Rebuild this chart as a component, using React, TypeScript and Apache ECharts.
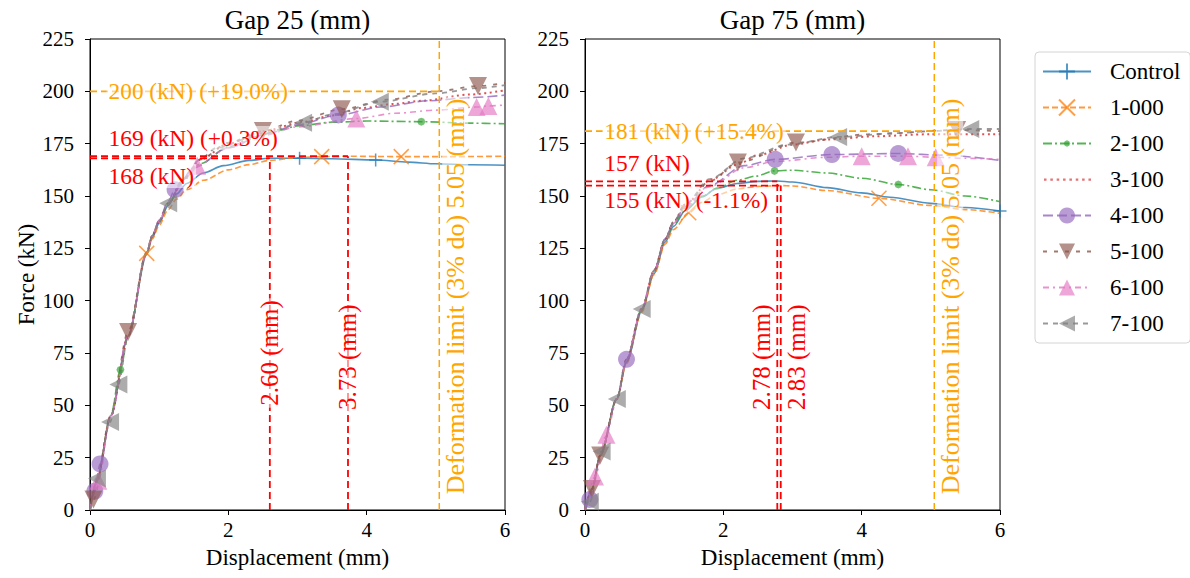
import React, { useEffect, useRef } from "react";
import * as echarts from "echarts";

type Pt = [number, number];

const SERIF = "Liberation Serif, serif";

const seriesNames = ["Control", "1-000", "2-100", "3-100", "4-100", "5-100", "6-100", "7-100"];
const seriesColors = ["#1f77b4", "#ff7f0e", "#2ca02c", "#d62728", "#9467bd", "#8c564b", "#e377c2", "#7f7f7f"];

const xTicks = [0, 2, 4, 6];
const yTicks = [0, 25, 50, 75, 100, 125, 150, 175, 200, 225];
const panelTitles = ["Gap 25 (mm)", "Gap 75 (mm)"];

// ---- Gap 25 (mm) ----
const g25Control: Pt[] = [[0, 0], [0.1, 14], [0.3, 45], [0.55, 83], [0.82, 122], [0.9, 130], [1.0, 137], [1.13, 145.5], [1.25, 151], [1.4, 156], [1.64, 161], [1.93, 164.5], [2.3, 167], [2.6, 168], [3.03, 168], [3.5, 167.8], [4.13, 167.2], [4.6, 166.2], [5.0, 165.4], [5.5, 164.9], [6, 164.7]];
const g25ControlMarks = [3.03, 4.13];
const g25S1: Pt[] = [[0, 0], [0.1, 14], [0.3, 45], [0.55, 83], [0.82, 122.6], [0.9, 129.5], [1.0, 136], [1.13, 143.5], [1.25, 148.5], [1.4, 153], [1.64, 157.5], [2.0, 162.5], [2.3, 165], [2.6, 167], [3.0, 168.3], [3.35, 168.8], [3.73, 169], [4.5, 168.8], [5.2, 168.8], [6, 169]];
const g25S1Marks = [0.82, 3.35, 4.5];
const g25S2: Pt[] = [[0, 0], [0.1, 14], [0.3, 45], [0.44, 67], [0.55, 83], [0.82, 123], [0.9, 131], [1.0, 138], [1.13, 146.5], [1.35, 157.5], [1.6, 165.5], [2.0, 173.5], [2.4, 178.5], [2.75, 181.5], [3.0, 183.5], [3.5, 185.2], [4.0, 185.8], [4.79, 185.5], [5.5, 184.8], [6, 184.5]];
const g25S2Marks = [0.44, 4.79];
const g25S3: Pt[] = [[0, 0], [0.1, 14], [0.3, 45], [0.55, 83], [0.82, 123], [0.9, 131], [1.0, 138], [1.13, 146.5], [1.35, 158], [1.6, 167.5], [2.0, 175], [2.5, 181], [3.1, 185.5], [3.5, 188.5], [3.93, 192], [4.4, 194], [4.8, 195.5], [5.5, 198.5], [6, 200.5]];
const g25S3Marks: number[] = [];
const g25S4: Pt[] = [[0, 0], [0.07, 9], [0.145, 22], [0.3, 45], [0.55, 83], [0.82, 123], [0.9, 131], [1.0, 138.5], [1.13, 147.5], [1.23, 153], [1.5, 163.5], [2.0, 173], [2.5, 179], [3.0, 184], [3.59, 188.7], [4.2, 192.5], [4.89, 195.5], [5.5, 197], [6, 198.2]];
const g25S4Marks = [0.07, 0.145, 1.23, 3.59];
const g25S5: Pt[] = [[0, 0], [0.05, 5], [0.3, 45], [0.55, 85], [0.82, 123], [0.9, 131], [1.0, 138], [1.13, 146.5], [1.35, 158], [1.6, 167.5], [2.0, 175.5], [2.5, 181], [3.0, 186], [3.64, 191.5], [4.3, 196], [5.0, 200], [5.61, 202.5], [6, 204]];
const g25S5Marks = [0.05, 0.55, 2.5, 3.64, 5.61];
const g25S6: Pt[] = [[0, 0], [0.12, 14], [0.3, 45], [0.55, 83], [0.82, 123], [0.9, 131], [1.0, 138], [1.13, 146.5], [1.35, 157.5], [1.55, 164.5], [2.0, 173], [2.5, 179], [3.0, 183], [3.85, 187], [4.41, 189.5], [5.0, 191], [5.59, 192.5], [5.76, 193], [6, 193.5]];
const g25S6Marks = [0.12, 1.55, 3.85, 5.59, 5.76];
const g25S7: Pt[] = [[0, 0], [0.1, 15], [0.29, 42], [0.41, 60], [0.55, 83], [0.82, 123], [0.9, 131], [1.0, 138], [1.13, 146.5], [1.35, 158], [1.59, 167.5], [1.83, 173], [2.5, 180], [3.08, 185], [3.5, 189], [4.19, 195], [5.0, 199], [5.6, 201.5], [6, 203]];
const g25S7Marks = [0.1, 0.29, 0.41, 1.13, 3.08, 4.19];

// ---- Gap 75 (mm) ----
const g75Control: Pt[] = [[0, 0], [0.1, 10], [0.22, 26], [0.46, 53], [0.6, 70.5], [0.82, 95], [1.0, 113], [1.16, 128], [1.28, 135.5], [1.45, 143], [1.69, 149.5], [1.9, 153.5], [2.2, 156], [2.5, 157], [2.78, 157.2], [3.0, 156.7], [3.5, 154], [4.0, 151.5], [4.41, 149.4], [5.0, 146.5], [5.5, 144.5], [6, 142.8]];
const g75ControlMarks = [6];
const g75S1: Pt[] = [[0, 0], [0.1, 10], [0.22, 26], [0.46, 53], [0.6, 70], [0.82, 94.5], [1.0, 112.5], [1.16, 127], [1.28, 134], [1.5, 142], [1.69, 147], [1.9, 150.5], [2.2, 153.3], [2.5, 154.6], [2.83, 155], [3.0, 154.8], [3.5, 152.6], [4.25, 148.9], [5.0, 145.5], [5.5, 143.5], [6, 141.7]];
const g75S1Marks = [1.5, 4.25];
const g75S2: Pt[] = [[0, 0], [0.1, 10], [0.22, 26], [0.46, 53], [0.6, 71], [0.82, 96], [1.0, 114], [1.16, 129], [1.28, 136.5], [1.45, 144], [1.7, 150], [1.9, 153.5], [2.2, 157.5], [2.47, 159.5], [2.74, 162], [3.0, 162.3], [3.5, 161], [4.0, 158.5], [4.53, 155.5], [5.0, 153], [5.5, 150], [6, 147.3]];
const g75S2Marks = [2.74, 4.53];
const g75S3: Pt[] = [[0, 0], [0.1, 10], [0.22, 26], [0.46, 53], [0.6, 72], [0.82, 96], [1.0, 114.5], [1.16, 129.5], [1.28, 137.5], [1.45, 146], [1.83, 158], [2.2, 165], [2.5, 169.5], [3.0, 174.5], [3.5, 177], [4.17, 178.5], [5.0, 179.5], [6, 179.5]];
const g75S3Marks: number[] = [];
const g75S4: Pt[] = [[0, 0], [0.07, 5], [0.1, 10], [0.22, 26], [0.46, 53], [0.6, 72], [0.82, 96], [1.0, 114.5], [1.16, 129.5], [1.28, 137.5], [1.45, 145], [1.8, 155], [2.3, 164.5], [2.75, 167.5], [3.57, 169.8], [4.53, 170.3], [5.2, 169.5], [6, 167]];
const g75S4Marks = [0.07, 0.6, 2.75, 3.57, 4.53];
const g75S5: Pt[] = [[0, 0], [0.1, 10], [0.22, 26], [0.46, 53], [0.6, 72], [0.82, 96], [1.0, 114.5], [1.16, 129.5], [1.28, 137.5], [1.45, 146], [1.8, 157], [2.21, 166], [3.05, 175.5], [4.1, 179.5], [5.38, 181.5], [6, 181]];
const g75S5Marks = [0.1, 0.22, 2.21, 3.05, 5.38];
const g75S6: Pt[] = [[0, 0], [0.145, 16], [0.31, 36], [0.46, 53], [0.6, 71], [0.82, 96], [1.0, 114], [1.16, 129], [1.28, 137], [1.45, 144.5], [1.8, 154.5], [2.3, 163.5], [2.75, 166.5], [3.5, 168.5], [4.0, 169], [4.67, 169], [5.07, 168.5], [5.5, 168], [6, 167.5]];
const g75S6Marks = [0.145, 0.31, 4.0, 4.67, 5.07];
const g75S7: Pt[] = [[0, 0], [0.07, 4], [0.24, 28], [0.46, 53], [0.6, 71], [0.82, 96], [1.0, 114.5], [1.16, 129.5], [1.28, 137.5], [1.45, 146], [1.8, 158], [2.3, 168], [2.93, 174.5], [3.66, 178.2], [4.5, 180], [5.0, 181], [5.57, 182], [6, 182]];
const g75S7Marks = [0.07, 0.24, 0.46, 0.82, 3.66, 5.57];

// ---- annotation values ----
const g25RedPeaks: Pt[] = [[2.6, 168], [3.73, 169]];
const g25Limit: Pt = [5.05, 200];
const g75RedPeaks: Pt[] = [[2.78, 157], [2.83, 155]];
const g75Limit: Pt = [5.05, 181];

const g25Labels = ["200 (kN) (+19.0%)", "169 (kN) (+0.3%)", "168 (kN)", "2.60 (mm)", "3.73 (mm)", "Deformation limit (3% do) 5.05 (mm)"];
const g75Labels = ["181 (kN) (+15.4%)", "157 (kN)", "155 (kN) (-1.1%)", "2.78 (mm)", "2.83 (mm)", "Deformation limit (3% do) 5.05 (mm)"];

const g25Curves = [g25Control, g25S1, g25S2, g25S3, g25S4, g25S5, g25S6, g25S7];
const g25Marks = [g25ControlMarks, g25S1Marks, g25S2Marks, g25S3Marks, g25S4Marks, g25S5Marks, g25S6Marks, g25S7Marks];
const g75Curves = [g75Control, g75S1, g75S2, g75S3, g75S4, g75S5, g75S6, g75S7];
const g75Marks = [g75ControlMarks, g75S1Marks, g75S2Marks, g75S3Marks, g75S4Marks, g75S5Marks, g75S6Marks, g75S7Marks];

// ---- styles ----
const PLUS = "path://M0,5L10,5M5,0L5,10";
const CROSS = "path://M0,0L10,10M10,0L0,10";
const DOT = "path://M0,0M20,20M10,6L12.83,7.17L14,10L12.83,12.83L10,14L7.17,12.83L6,10L7.17,7.17Z";
const TRI_DOWN = "path://M0,0L10,0L5,8.66Z";
const TRI_UP = "path://M5,0L10,8.66L0,8.66Z";
const TRI_LEFT = "path://M8.66,0L8.66,10L0,5Z";
let dotted = "path://M0,0M48,20";
for (let x = 1; x < 47; x += 6.5) dotted += `M${x},9L${x + 2.6},9L${x + 2.6},11.2L${x},11.2Z`;
const DOTTED_ICON = dotted;

const seriesStyles: any[] = [
  { dash: "solid", width: 1.6, symbol: PLUS, size: 13, stroke: true },
  { dash: [6, 3], width: 1.6, symbol: CROSS, size: 15, stroke: true },
  { dash: [9, 3, 2, 3], width: 1.6, symbol: DOT, size: 20, stroke: false },
  { dash: [2, 3.5], width: 2, symbol: "none", size: 0, stroke: false },
  { dash: [10, 4], width: 1.6, symbol: "circle", size: 17, stroke: false },
  { dash: [4, 7], width: 1.8, symbol: TRI_DOWN, size: 18, stroke: false },
  { dash: [6, 4, 2, 4], width: 1.6, symbol: TRI_UP, size: 18, stroke: false },
  { dash: [5, 5], width: 1.8, symbol: TRI_LEFT, size: 18, stroke: false },
];

function buildSeries(g: number, curves: Pt[][], marks: number[][]) {
  return seriesNames.map((name, i) => {
    const st = seriesStyles[i];
    const c = seriesColors[i];
    return {
      type: "line",
      name,
      xAxisIndex: g,
      yAxisIndex: g,
      smooth: 0.3,
      smoothMonotone: "x",
      symbol: st.symbol,
      symbolSize: st.size,
      showSymbol: true,
      showAllSymbol: true,
      z: 2,
      emphasis: { disabled: true },
      lineStyle: { color: c, width: st.width, type: st.dash, opacity: 0.8 },
      itemStyle: st.stroke
        ? { color: c, borderColor: c, borderWidth: 1.5, opacity: 0.75 }
        : { color: c, borderWidth: 0, opacity: 0.65 },
      data: curves[i].map((p) =>
        marks[i].indexOf(p[0]) >= 0 ? { value: p } : { value: p, symbol: "none" }
      ),
    };
  });
}

function annoLine(g: number, pts: Pt[], color: string, width: number) {
  return {
    type: "line",
    xAxisIndex: g,
    yAxisIndex: g,
    symbol: "none",
    silent: true,
    z: 3,
    lineStyle: { color, width, type: [7, 4] },
    data: pts,
  };
}

function annotations(g: number, reds: Pt[], limit: Pt) {
  const out: any[] = [];
  reds.forEach((p) => {
    out.push(annoLine(g, [[0, p[1]], [p[0], p[1]]], "#ff0000", 1.8));
    out.push(annoLine(g, [[p[0], 0], [p[0], p[1]]], "#ff0000", 1.8));
  });
  out.push(annoLine(g, [[0, limit[1]], [limit[0], limit[1]]], "#ffa500", 1.8));
  out.push(annoLine(g, [[limit[0], 0], [limit[0], 225]], "#ffa500", 1.5));
  return out;
}

// label placements: [labelIndex, x, y, color, rotated, align, fontSize]
const g25LabelPos: any[] = [
  [0, 0.24, 200, "#ffa500", false, "left", 23.3],
  [1, 0.24, 177.7, "#ff0000", false, "left", 23.5],
  [2, 0.24, 159.5, "#ff0000", false, "left", 23.5],
  [3, 2.6, 75, "#ff0000", true, "center", 25],
  [4, 3.73, 73, "#ff0000", true, "center", 25],
  [5, 5.28, 102, "#ffa500", true, "center", 26],
];
const g75LabelPos: any[] = [
  [0, 0.25, 181, "#ffa500", false, "left", 23.3],
  [1, 0.25, 165.8, "#ff0000", false, "left", 23.5],
  [2, 0.25, 148, "#ff0000", false, "left", 23.5],
  [3, 2.545, 73, "#ff0000", true, "center", 25],
  [4, 3.065, 73, "#ff0000", true, "center", 25],
  [5, 5.28, 102, "#ffa500", true, "center", 26],
];

function axisX(g: number) {
  return {
    type: "value",
    gridIndex: g,
    min: xTicks[0],
    max: xTicks[xTicks.length - 1],
    interval: 2,
    name: "Displacement (mm)",
    nameLocation: "middle",
    nameGap: 36,
    nameTextStyle: { color: "#000", fontFamily: SERIF, fontSize: 23 },
    axisLine: { onZero: false, lineStyle: { color: "#000", width: 1 } },
    axisTick: { show: true, inside: false, length: 5, lineStyle: { color: "#000" } },
    axisLabel: { color: "#000", fontFamily: SERIF, fontSize: 21, margin: 9 },
    splitLine: { show: false },
  };
}
function axisY(g: number) {
  return {
    type: "value",
    gridIndex: g,
    min: yTicks[0],
    max: yTicks[yTicks.length - 1],
    interval: 25,
    name: g === 0 ? "Force (kN)" : "",
    nameLocation: "middle",
    nameGap: 52,
    nameRotate: 90,
    nameTextStyle: { color: "#000", fontFamily: SERIF, fontSize: 23 },
    axisLine: { show: true, onZero: false, lineStyle: { color: "#000", width: 1 } },
    axisTick: { show: true, inside: false, length: 5, lineStyle: { color: "#000" } },
    axisLabel: { color: "#000", fontFamily: SERIF, fontSize: 21, margin: 16 },
    splitLine: { show: false },
  };
}

export default function App() {
  const ref = useRef<HTMLDivElement>(null);
  useEffect(() => {
    if (!ref.current) return;
    const chart = echarts.init(ref.current, undefined, { renderer: "svg" });
    const grids = [
      { left: 90, top: 39, width: 415, height: 471 },
      { left: 585, top: 39, width: 415, height: 471 },
    ];
    const option: any = {
      animation: false,
      backgroundColor: "#fff",
      textStyle: { fontFamily: SERIF },
      grid: grids.map((g) => ({ ...g, show: true, borderColor: "#000", borderWidth: 1, backgroundColor: "transparent" })),
      xAxis: [axisX(0), axisX(1)],
      yAxis: [axisY(0), axisY(1)],
      legend: {
        orient: "vertical",
        left: 1035,
        top: 52,
        data: seriesNames.map((n, i) => (i === 3 ? { name: n, icon: DOTTED_ICON } : { name: n })),
        itemWidth: 48,
        itemHeight: 20,
        itemGap: 13,
        padding: [8, 10, 8, 7],
        backgroundColor: "#fff",
        borderColor: "#d4d4d4",
        borderWidth: 1,
        borderRadius: 4,
        selectedMode: false,
        textStyle: { color: "#000", fontFamily: SERIF, fontSize: 23, padding: [0, 0, 0, 14] },
      },
      series: [
        ...buildSeries(0, g25Curves, g25Marks),
        ...buildSeries(1, g75Curves, g75Marks),
        ...annotations(0, g25RedPeaks, g25Limit),
        ...annotations(1, g75RedPeaks, g75Limit),
      ],
    };
    chart.setOption(option);

    const graphics: any[] = [];
    grids.forEach((g, gi) => {
      graphics.push({
        type: "text",
        x: g.left + g.width / 2,
        y: 20,
        z: 20,
        style: {
          text: panelTitles[gi],
          fill: "#000",
          fontSize: 27,
          fontFamily: SERIF,
          align: "center",
          verticalAlign: "middle",
          textAlign: "center",
          textVerticalAlign: "middle",
        },
      });
    });
    const addLabels = (gi: number, labels: string[], pos: any[]) => {
      pos.forEach((p) => {
        const px = chart.convertToPixel({ gridIndex: gi } as any, [p[1], p[2]]) as number[];
        graphics.push({
          type: "text",
          x: px[0],
          y: px[1],
          rotation: p[4] ? Math.PI / 2 : 0,
          z: 20,
          style: {
            text: labels[p[0]],
            fill: p[3],
            fontSize: p[6],
            fontFamily: SERIF,
            align: p[5],
            verticalAlign: "middle",
            textAlign: p[5],
            textVerticalAlign: "middle",
            backgroundColor: "rgba(255,255,255,0.55)",
            padding: [0, 2],
          },
        });
      });
    };
    addLabels(0, g25Labels, g25LabelPos);
    addLabels(1, g75Labels, g75LabelPos);
    chart.setOption({ graphic: graphics });

    return () => chart.dispose();
  }, []);
  return (
    <div
      ref={ref}
      style={{ position: "fixed", left: 0, top: 0, width: 1190, height: 578, background: "#fff" }}
    />
  );
}
